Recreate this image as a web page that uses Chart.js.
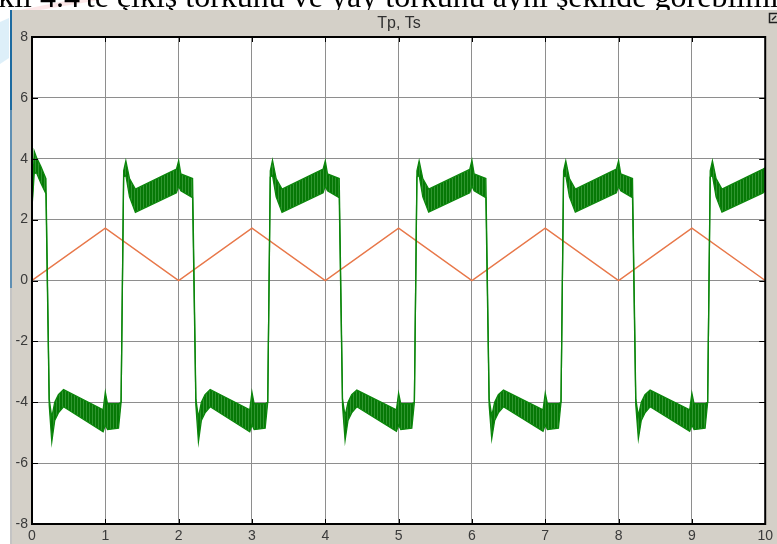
<!DOCTYPE html>
<html>
<head>
<meta charset="utf-8">
<script src="https://cdn.jsdelivr.net/npm/chart.js@4.4.1/dist/chart.umd.min.js"></script>
<style>
  html, body { margin: 0; padding: 0; background: #ffffff; }
  #wrap { width: 777px; height: 544px; position: relative; overflow: hidden; }
  canvas { display: block; }
</style>
</head>
<body>
<div id="wrap"><canvas id="scope" width="777" height="544"></canvas></div>
<script>
// Time axis (s) for the Tp trace and its ripple envelope (upper / lower edge of the band)
const tpTime = [
  0, 0.03, 0.06, 0.12, 0.19,
  0.235, 0.27, 0.31, 0.36, 0.43, 0.97, 1.0, 1.03, 1.18, 1.215, 1.25, 1.28, 1.33, 1.41, 1.97, 2.0, 2.03, 2.19,
  2.235, 2.27, 2.31, 2.36, 2.43, 2.97, 3.0, 3.03, 3.18, 3.215, 3.25, 3.28, 3.33, 3.41, 3.97, 4.0, 4.03, 4.19,
  4.235, 4.27, 4.31, 4.36, 4.43, 4.97, 5.0, 5.03, 5.18, 5.215, 5.25, 5.28, 5.33, 5.41, 5.97, 6.0, 6.03, 6.19,
  6.235, 6.27, 6.31, 6.36, 6.43, 6.97, 7.0, 7.03, 7.18, 7.215, 7.25, 7.28, 7.33, 7.41, 7.97, 8.0, 8.03, 8.19,
  8.235, 8.27, 8.31, 8.36, 8.43, 8.97, 9.0, 9.03, 9.18, 9.215, 9.25, 9.28, 9.33, 9.41, 9.97, 10
];
const tpUpper = [
  2.4, 4.25, 4.05, 3.75, 3.35,
  -3.9, -4.5, -4.0, -3.75, -3.58, -4.25, -3.67, -4.05, -4.05, -4.0, 3.6, 3.93, 3.35, 3.0, 3.66, 3.93, 3.5, 3.35,
  -3.9, -4.5, -4.0, -3.75, -3.58, -4.25, -3.67, -4.05, -4.05, -4.0, 3.6, 3.95, 3.35, 3.0, 3.66, 3.93, 3.5, 3.35,
  -3.9, -4.45, -4.0, -3.75, -3.6, -4.25, -3.7, -4.05, -4.05, -4.0, 3.6, 3.93, 3.35, 3.0, 3.65, 3.95, 3.5, 3.35,
  -3.9, -4.45, -4.0, -3.75, -3.6, -4.25, -3.7, -4.05, -4.05, -4.0, 3.6, 3.93, 3.35, 3.0, 3.66, 3.93, 3.5, 3.35,
  -3.9, -4.45, -4.0, -3.75, -3.6, -4.25, -3.7, -4.05, -4.05, -4.0, 3.6, 3.93, 3.35, 3.0, 3.66, 3.7
];
const tpLower = [
  2.4, 3.5, 3.55, 3.2, 2.85,
  -4.1, -5.3, -4.6, -4.35, -4.15, -4.97, -4.75, -4.9, -4.85, -4.0, 3.4, 3.45, 2.75, 2.24, 2.88, 3.1, 2.95, 2.72,
  -4.1, -5.3, -4.6, -4.35, -4.15, -4.97, -4.75, -4.9, -4.85, -4.0, 3.4, 3.45, 2.75, 2.24, 2.88, 3.1, 2.95, 2.72,
  -4.1, -5.25, -4.6, -4.35, -4.15, -4.95, -4.75, -4.9, -4.85, -4.0, 3.4, 3.45, 2.75, 2.25, 2.88, 3.1, 2.95, 2.72,
  -4.1, -5.2, -4.6, -4.35, -4.15, -4.95, -4.75, -4.9, -4.85, -4.0, 3.4, 3.45, 2.75, 2.25, 2.88, 3.1, 2.95, 2.72,
  -4.1, -5.2, -4.6, -4.35, -4.15, -4.95, -4.75, -4.9, -4.85, -4.0, 3.4, 3.45, 2.75, 2.25, 2.88, 2.95
];

// Ts: triangular spring torque
const tsTime   = [0, 1, 2, 3, 4, 5, 6, 7, 8, 9, 10];
const tsValues = [0, 1.72, 0, 1.72, 0, 1.72, 0, 1.72, 0, 1.72, 0];

// Axis ticks
const xTicks = [0, 1, 2, 3, 4, 5, 6, 7, 8, 9, 10];
const yTicks = [-8, -6, -4, -2, 0, 2, 4, 6, 8];

const scopeTitle = 'Tp, Ts';
const pageLine = "Şekil 4.4'te çıkış torkunu ve yay torkunu aynı şekilde görebilmiştik.";

const toPoints = (xs, ys) => xs.map((x, i) => ({ x: x, y: ys[i] }));

const GREEN = '#0b860b';
const ORANGE = '#e8784a';

// Fine vertical hatching for the ripple band
function rippleFill() {
  const c = document.createElement('canvas');
  c.width = 3; c.height = 4;
  const g = c.getContext('2d');
  g.fillStyle = '#067806';
  g.fillRect(0, 0, 3, 4);
  g.fillStyle = '#2f962f';
  g.fillRect(2, 0, 1, 4);
  return g.createPattern(c, 'repeat');
}

// Page text, window frame and title bar behind the axes
const framePlugin = {
  id: 'frame',
  beforeDraw(chart) {
    const ctx = chart.ctx;
    const W = chart.width, H = chart.height;
    ctx.save();
    ctx.fillStyle = '#ffffff';
    ctx.fillRect(0, 0, W, H);

    // faint watermark tints
    ctx.fillStyle = 'rgba(120,190,230,0.25)';
    ctx.beginPath();
    ctx.moveTo(0, 22); ctx.lineTo(9, 18); ctx.lineTo(9, 58); ctx.lineTo(0, 64);
    ctx.closePath(); ctx.fill();
    ctx.fillStyle = 'rgba(240,120,130,0.18)';
    ctx.beginPath();
    ctx.moveTo(20, 10); ctx.lineTo(70, 0); ctx.lineTo(100, 0); ctx.lineTo(40, 10);
    ctx.closePath(); ctx.fill();

    // running document text, mostly above the visible top edge
    ctx.fillStyle = '#000000';
    ctx.font = '32px "Liberation Serif", "DejaVu Serif", serif';
    ctx.textBaseline = 'alphabetic';
    ctx.textAlign = 'left';
    const lead = ctx.measureText('Şekil ').width;
    ctx.fillText(pageLine, 40 - lead, 7);

    // window panel
    ctx.fillStyle = '#d4d0c8';
    ctx.fillRect(12, 10, W - 12, H - 10);
    ctx.fillStyle = '#1d6aa0';
    ctx.fillRect(10, 10, 2, 100);
    ctx.fillStyle = '#5f8fb3';
    ctx.fillRect(10, 110, 2, 178);
    ctx.fillStyle = '#c4c4c4';
    ctx.fillRect(10, 288, 2, H - 288);

    // title
    ctx.fillStyle = '#303030';
    ctx.font = '16px "Liberation Sans", Arial, sans-serif';
    ctx.textAlign = 'center';
    ctx.fillText(scopeTitle, 399, 28);

    // undock icon
    ctx.strokeStyle = '#202020';
    ctx.lineWidth = 1.5;
    ctx.strokeRect(769.5, 13.5, 9, 9);
    ctx.beginPath();
    ctx.moveTo(772, 20); ctx.lineTo(776, 16);
    ctx.stroke();

    // plot background
    const a = chart.chartArea;
    ctx.fillStyle = '#ffffff';
    ctx.fillRect(a.left, a.top, a.right - a.left, a.bottom - a.top);
    ctx.restore();
  }
};

// Box outline and inward tick marks
const boxPlugin = {
  id: 'box',
  afterDraw(chart) {
    const ctx = chart.ctx;
    const a = chart.chartArea;
    const xs = chart.scales.x, ys = chart.scales.y;
    ctx.save();
    ctx.strokeStyle = '#000000';
    ctx.lineWidth = 1;
    ctx.beginPath();
    xTicks.forEach(v => {
      const px = Math.round(xs.getPixelForValue(v)) + 0.5;
      ctx.moveTo(px, a.top); ctx.lineTo(px, a.top + 5);
      ctx.moveTo(px, a.bottom); ctx.lineTo(px, a.bottom - 5);
    });
    yTicks.forEach(v => {
      const py = Math.round(ys.getPixelForValue(v)) + 0.5;
      ctx.moveTo(a.left, py); ctx.lineTo(a.left + 6, py);
      ctx.moveTo(a.right, py); ctx.lineTo(a.right - 6, py);
    });
    ctx.stroke();
    ctx.lineWidth = 2;
    ctx.strokeRect(a.left, a.top, a.right - a.left, a.bottom - a.top);
    ctx.restore();
  }
};

new Chart(document.getElementById('scope'), {
  type: 'line',
  data: {
    datasets: [
      {
        label: 'Tp (upper)',
        data: toPoints(tpTime, tpUpper),
        borderColor: GREEN,
        borderWidth: 1.3,
        pointRadius: 0,
        tension: 0,
        fill: false
      },
      {
        label: 'Tp (lower)',
        data: toPoints(tpTime, tpLower),
        borderColor: GREEN,
        borderWidth: 1.3,
        pointRadius: 0,
        tension: 0,
        fill: '-1',
        backgroundColor: rippleFill()
      },
      {
        label: 'Ts',
        data: toPoints(tsTime, tsValues),
        borderColor: ORANGE,
        borderWidth: 1.5,
        pointRadius: 0,
        tension: 0,
        fill: false
      }
    ]
  },
  options: {
    responsive: false,
    animation: false,
    devicePixelRatio: 1,
    layout: { padding: { left: 10, right: 11, top: 37, bottom: 0 } },
    plugins: {
      legend: { display: false },
      tooltip: { enabled: false },
      title: { display: false }
    },
    scales: {
      x: {
        type: 'linear',
        min: 0,
        max: 10,
        afterBuildTicks(s) { s.ticks = xTicks.map(v => ({ value: v })); },
        afterFit(s) { s.height = 20; },
        ticks: {
          color: '#3a3a3a',
          font: { family: '"Liberation Sans", Arial, sans-serif', size: 14 },
          padding: 4,
          maxRotation: 0,
          autoSkip: false
        },
        grid: { color: '#8e8e8e', lineWidth: 1, drawTicks: false },
        border: { display: false }
      },
      y: {
        min: -8,
        max: 8,
        afterBuildTicks(s) { s.ticks = yTicks.map(v => ({ value: v })); },
        afterFit(s) { s.width = 22; },
        ticks: {
          color: '#3a3a3a',
          font: { family: '"Liberation Sans", Arial, sans-serif', size: 14 },
          padding: 4,
          autoSkip: false
        },
        grid: { color: '#8e8e8e', lineWidth: 1, drawTicks: false },
        border: { display: false }
      }
    }
  },
  plugins: [framePlugin, boxPlugin]
});
</script>
</body>
</html>
